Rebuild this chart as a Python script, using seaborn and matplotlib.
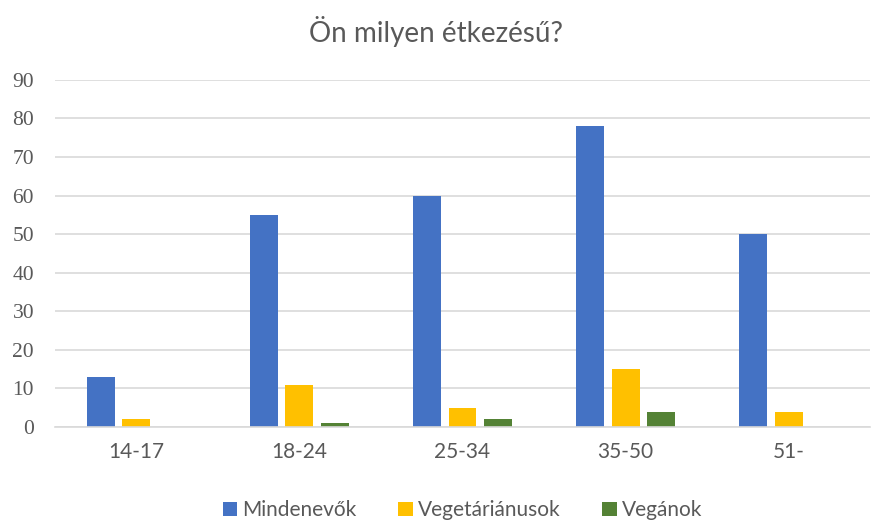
import numpy as np
import pandas as pd
import matplotlib
matplotlib.use('Agg')
import matplotlib.pyplot as plt
import seaborn as sns

categories = ['14-17', '18-24', '25-34', '35-50', '51-']
series = ['Mindenevők', 'Vegetáriánusok', 'Vegánok']
mindenevok = [13, 55, 60, 78, 50]
vegetarianusok = [2, 11, 5, 15, 4]
veganok = [0, 1, 2, 4, 0]
colors = ['#4472C4', '#FFC000', '#548235']

df = pd.DataFrame({
    'kor': categories * 3,
    'tipus': [series[0]] * 5 + [series[1]] * 5 + [series[2]] * 5,
    'ertek': mindenevok + vegetarianusok + veganok,
})

sns.set_style('white')
plt.rcParams['font.family'] = ['Lato', 'DejaVu Sans']

fig = plt.figure(figsize=(8.71, 5.22), dpi=100)
ax = fig.add_axes([0.063, 0.182, 0.936, 0.665])

sns.barplot(data=df, x='kor', y='ertek', hue='tipus', palette=colors,
            width=0.66, gap=0.22, ax=ax, saturation=1, legend=True,
            linewidth=0)

ax.set_ylim(0, 90)
ax.set_yticks(range(0, 91, 10))
ax.yaxis.grid(True, color='#D9D9D9', linewidth=1.2)
ax.set_axisbelow(True)
for s in ['top', 'right', 'left']:
    ax.spines[s].set_visible(False)
ax.spines['bottom'].set_color('#D9D9D9')
ax.spines['bottom'].set_linewidth(1.2)
ax.tick_params(axis='both', length=0)
ax.tick_params(axis='x', pad=11, labelsize=15, labelcolor='#595959')
ax.tick_params(axis='y', pad=15, labelsize=15.5, labelcolor='#595959')
for lab in ax.get_yticklabels():
    lab.set_family('Liberation Serif')
ax.set_xlabel('')
ax.set_ylabel('')

fig.suptitle('Ön milyen étkezésű?', y=0.97, fontsize=20, color='#595959')

ax.legend(loc='center', bbox_to_anchor=(0.5, -0.24), ncol=3, frameon=False,
          fontsize=15, labelcolor='#595959', handlelength=0.7, handleheight=0.7,
          handletextpad=0.25, columnspacing=2.0)

fig.savefig('out.png', dpi=100)
